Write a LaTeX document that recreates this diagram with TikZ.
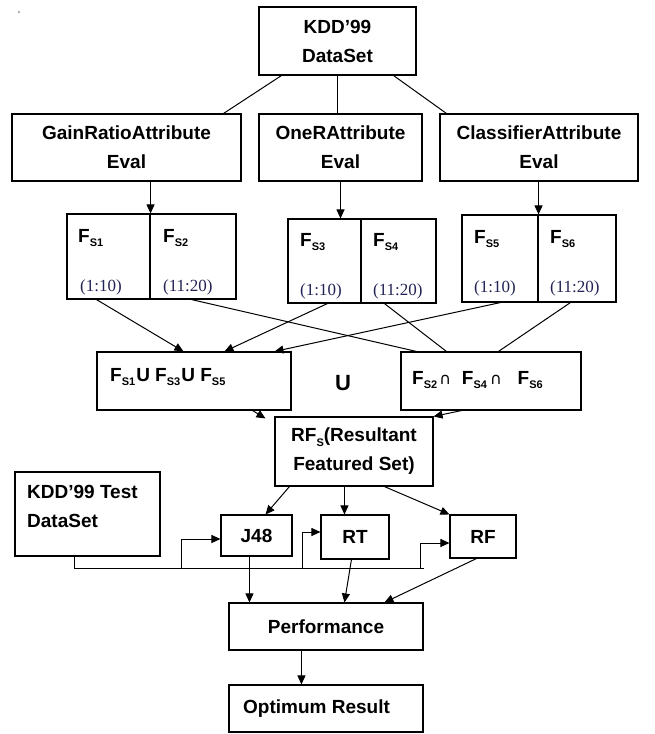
\documentclass[tikz,border=0pt]{standalone}
\usepackage{fontspec}
\setmainfont{Liberation Sans}
\newfontfamily\serifnum{Liberation Serif}
\newfontfamily\symfont{DejaVu Sans}
\usetikzlibrary{arrows.meta,calc}
\definecolor{numblue}{RGB}{35,35,85}
% F with a bold subscript S<n>
\newcommand{\Fsub}[1]{F\raisebox{-4.5pt}{\fontsize{11}{11}\selectfont S#1}}
\newcommand{\capsym}{{\symfont\mdseries\fontsize{16}{16}\selectfont ∩}}

\begin{document}
\begin{tikzpicture}[x=1pt,y=-1pt]
\tikzset{
  box/.style={draw=black, line width=1.1pt, inner sep=0pt, fill=white},
  lbl/.style={font=\fontsize{19}{29}\selectfont\bfseries, align=center, inner sep=0pt},
  num/.style={font=\fontsize{17}{17}\selectfont\serifnum, text=numblue, inner sep=0pt, anchor=base west},
  link/.style={line width=1pt},
  arr/.style={link, -{Triangle[length=9pt,width=8pt]}},
}
\fill[white] (0,0) rectangle (655,734);
\useasboundingbox (0,0) rectangle (655,734);

\node[font=\fontsize{9}{9}\selectfont, inner sep=0pt] (tick) at (19,14) {`};

% top level
\node[box, lbl, minimum width=157, minimum height=68] (kdd) at (337.5,41) {KDD’99\\DataSet};
\node[box, lbl, minimum width=229, minimum height=67] (gain) at (126.5,147.5) {GainRatioAttribute\\Eval};
\node[box, lbl, minimum width=163, minimum height=67] (oner) at (340.5,147.5) {OneRAttribute\\Eval};
\node[box, lbl, minimum width=198, minimum height=67] (classifier) at (539,147.5) {ClassifierAttribute\\Eval};

% feature subsets
\node[box, minimum width=83, minimum height=85] (f1) at (108.5,256.5) {};
\node[box, minimum width=86, minimum height=85] (f2) at (193,256.5) {};
\node[box, minimum width=73, minimum height=84] (f3) at (324.5,261) {};
\node[box, minimum width=75, minimum height=84] (f4) at (398.5,261) {};
\node[box, minimum width=76, minimum height=87] (f5) at (500,258.5) {};
\node[box, minimum width=78, minimum height=87] (f6) at (577,258.5) {};

\node[lbl, anchor=base west] (f1t) at (78,242) {\Fsub1};
\node[num] (f1n) at (80,291) {(1:10)};
\node[lbl, anchor=base west] (f2t) at (163,242) {\Fsub2};
\node[num] (f2n) at (163,291) {(11:20)};
\node[lbl, anchor=base west] (f3t) at (300,246) {\Fsub3};
\node[num] (f3n) at (300,295) {(1:10)};
\node[lbl, anchor=base west] (f4t) at (373,246) {\Fsub4};
\node[num] (f4n) at (373,295) {(11:20)};
\node[lbl, anchor=base west] (f5t) at (474,243) {\Fsub5};
\node[num] (f5n) at (474,292) {(1:10)};
\node[lbl, anchor=base west] (f6t) at (550,243) {\Fsub6};
\node[num] (f6n) at (550,292) {(11:20)};

% union / intersection
\node[box, minimum width=194, minimum height=58] (union) at (194,381) {};
\node[lbl, anchor=base west] (uniont) at (110,381) {\Fsub1\hspace{1pt}U \Fsub3\hspace{1pt}U \Fsub5};
\node[lbl, font=\fontsize{22}{22}\selectfont\bfseries] (ucap) at (343,383) {U};
\node[box, minimum width=180, minimum height=58] (inter) at (491,381) {};
\node[lbl, anchor=base west] (intert) at (412,384) {\Fsub2\hspace{2pt}\capsym\hspace{11pt}\Fsub4\hspace{3pt}\capsym\hspace{16pt}\Fsub6};

% resultant set
\node[box, lbl, minimum width=158, minimum height=69] (rfs) at (354,451.5)
  {RF\raisebox{-4.5pt}{\fontsize{11}{11}\selectfont S}(Resultant\\Featured Set)};

% test data and classifiers
\node[box, minimum width=145, minimum height=84] (test) at (87.5,514) {};
\node[lbl, anchor=base west] (testa) at (27,498) {KDD’99 Test};
\node[lbl, anchor=base west] (testb) at (27,527) {DataSet};
\node[box, lbl, minimum width=71, minimum height=41] (j48) at (256.5,535.5) {J48};
\node[box, lbl, minimum width=68, minimum height=44] (rt) at (355,537) {RT};
\node[box, lbl, minimum width=66, minimum height=43] (rf) at (483,536.5) {RF};

% evaluation
\node[box, lbl, minimum width=194, minimum height=47] (perf) at (326,626.5) {Performance};
\node[box, minimum width=194, minimum height=47] (opt) at (326,708.5) {};
\node[lbl, anchor=base west] (optt) at (243,713) {Optimum Result};

% connectors: dataset to evaluators
\draw[link] ([xshift=23pt]kdd.south west) -- ([xshift=-18pt]gain.north east);
\draw[link] (kdd.south) -- (kdd.south |- oner.north);
\draw[link] ([xshift=-23pt]kdd.south east) -- ([xshift=7pt]classifier.north west);
\draw[arr] (f1.north east |- gain.south) -- (f1.north east);
\draw[arr] (oner.south) -- (oner.south |- f3.north);
\draw[arr] (f5.north east |- classifier.south) -- (f5.north east);

% subsets to union and intersection
\draw[arr] ([xshift=30pt]f1.south west) -- ([xshift=87pt]union.north west);
\draw[link] ([xshift=42pt]f2.south west) -- ([xshift=16pt]inter.north west);
\draw[arr] ([xshift=40pt]f3.south west) -- ([xshift=128pt]union.north west);
\draw[link] ([xshift=24pt]f4.south west) -- ([xshift=46pt]inter.north west);
\draw[arr] ([xshift=39pt]f5.south west) -- ([xshift=-17pt]union.north east);
\draw[link] ([xshift=33pt]f6.south west) -- ([xshift=98pt]inter.north west);

% to resultant set
\draw[arr] ([xshift=-39pt]union.south east) -- ([xshift=-9pt,yshift=-2pt]rfs.north west);
\draw[arr] ([xshift=61pt]inter.south west) -- (rfs.north east);

% resultant set to classifiers
\draw[arr] ([xshift=15pt]rfs.south west) -- ([xshift=-27pt]j48.north east);
\draw[arr] ([xshift=70pt]rfs.south west) -- ([xshift=24pt]rt.north west);
\draw[arr] ([xshift=110pt]rfs.south west) -- (rf.north west);

% test data bus
\coordinate (bus) at (424,568);
\coordinate (b1) at (181,568);
\coordinate (b2) at (302,568);
\coordinate (b3) at (420,568);
\draw[link] ([xshift=60pt]test.south west) |- (bus);
\draw[arr] (b1) |- ([yshift=-3.5pt]j48.west);
\draw[arr] (b2) |- ([yshift=5pt]rt.west);
\draw[arr] (b3) |- ([yshift=-6.5pt]rf.west);

% classifiers to performance
\draw[arr] ([xshift=29pt]j48.south west) -- ([xshift=21pt]perf.north west);
\draw[arr] ([xshift=31pt]rt.south west) -- ([xshift=116pt]perf.north west);
\draw[arr] ([xshift=27pt]rf.south west) -- ([xshift=156pt]perf.north west);
\draw[arr] ([xshift=73pt]perf.south west) -- ([xshift=73pt]opt.north west);
\end{tikzpicture}
\end{document}
